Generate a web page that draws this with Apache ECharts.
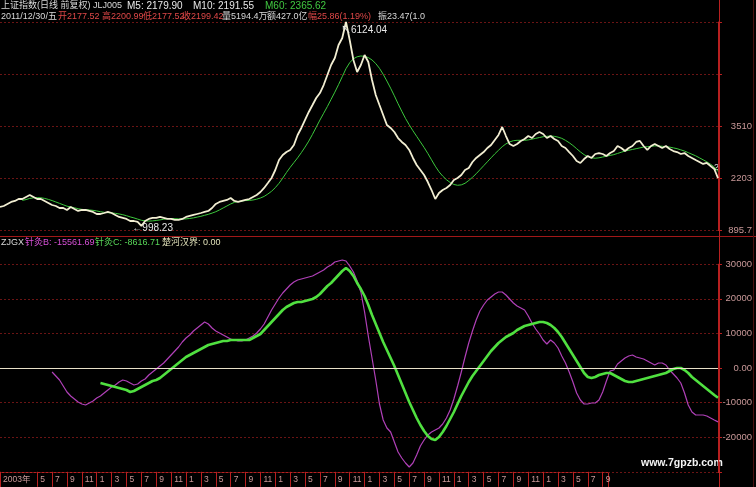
<!DOCTYPE html>
<html><head><meta charset="utf-8">
<script src="https://cdn.jsdelivr.net/npm/echarts@6/dist/echarts.min.js"></script>
<style>html,body{margin:0;padding:0;background:#000;}#c{width:756px;height:487px;}</style>
</head><body><div id="c"></div>
<script>
// Half-month sampling, Dec 2002 .. Dec 2010 (194 points)
const categories = [];
for (let k = 0; k < 97; k++) {
  const y = 2002 + Math.floor((11 + k) / 12);
  const m = (11 + k) % 12 + 1;
  const ym = y + '/' + (m < 10 ? '0' + m : m);
  categories.push(ym + '上', ym + '下');
}
const firstLabel = '2003年';
const labelFrom = '2003/05', labelTo = '2009/09';

const price = [1474,1499,1550,1600,1625,1675,1675,1726,1776,1726,
1675,1675,1625,1575,1524,1499,1449,1449,1399,1474,
1424,1374,1399,1399,1374,1349,1298,1298,1323,1349,
1323,1273,1223,1198,1173,1122,1122,1097,998.23,1122,
1173,1198,1198,1223,1198,1173,1173,1148,1148,1173,
1223,1248,1273,1298,1323,1349,1374,1449,1550,1600,
1625,1650,1700,1625,1600,1625,1650,1675,1726,1776,
1851,1952,2077,2203,2404,2655,2781,2856,2907,3032,
3284,3460,3661,3862,4037,4213,4339,4540,4791,5043,
5219,5545,5721,6124.04,5671,5168,4867,5043,5294,5118,
4666,4289,4037,3786,3535,3460,3359,3208,3108,3032,
2907,2706,2530,2404,2278,2102,1901,1675,1826,1901,
1952,2027,2153,2203,2278,2404,2454,2605,2706,2781,
2856,2957,3032,3158,3284,3485,3258,3057,3007,3057,
3133,3183,3258,3208,3309,3359,3309,3208,3258,3183,
3133,3007,2957,2856,2756,2630,2580,2680,2756,2706,
2806,2831,2806,2756,2831,2881,3007,2957,2881,2957,
3007,3108,3133,3007,2907,3007,3057,3007,2957,3007,
2931,2881,2856,2806,2831,2756,2706,2655,2605,2555,
2580,2505,2429,2199.42];

const ma60 = [null,null,null,null,null,null,1640,1660,1690,1705,
1710,1705,1690,1665,1635,1600,1565,1530,1495,1475,
1455,1430,1415,1405,1400,1390,1375,1355,1340,1330,
1325,1315,1300,1280,1255,1225,1200,1170,1140,1125,
1120,1125,1135,1150,1165,1180,1185,1180,1175,1170,
1175,1185,1200,1220,1240,1265,1290,1320,1355,1400,
1450,1500,1550,1590,1610,1625,1635,1640,1650,1670,
1700,1740,1800,1870,1960,2070,2200,2340,2470,2590,
2710,2840,2980,3130,3300,3480,3660,3830,4000,4180,
4360,4550,4750,4950,5100,5200,5250,5270,5260,5230,
5170,5080,4960,4810,4640,4460,4270,4070,3880,3700,
3540,3390,3250,3110,2970,2820,2660,2500,2360,2250,
2160,2090,2040,2020,2030,2070,2140,2220,2310,2410,
2510,2610,2710,2810,2900,2990,3060,3110,3140,3150,
3150,3150,3160,3180,3200,3220,3240,3250,3260,3250,
3230,3200,3150,3090,3020,2940,2860,2790,2740,2710,
2700,2710,2730,2750,2770,2790,2820,2850,2880,2900,
2920,2940,2960,2980,2990,3000,3010,3010,3000,2990,
2980,2960,2940,2910,2880,2840,2800,2760,2710,2660,
2610,2550,2480,2365.62];

const zjB = [null,null,null,null,null,null,null,null,null,null,
null,null,null,null,-1156,-2312,-3468,-5202,-6936,-8092,
-8959,-9826,-10404,-10693,-10115,-9537,-8670,-8092,-7225,-6358,
-5491,-4913,-4046,-3468,-3757,-4335,-4913,-4624,-3757,-3179,
-2023,-1156,-289,578,1445,2601,3757,4913,6069,7514,
8670,9537,10693,11560,12427,13294,12716,11560,10693,10115,
9537,8959,8381,8092,7803,7803,8092,8670,9248,10115,
11271,12716,14739,16762,18496,20230,21675,22831,23987,24854,
25432,25721,26010,26299,26588,27166,27744,28322,29189,29767,
30634,30923,31212,30923,29478,27744,25143,21964,16184,9248,
2890,-3468,-10404,-15028,-17340,-18496,-21386,-24276,-26010,-27455,
-28611,-27455,-25143,-22542,-20808,-19363,-18496,-17918,-17340,-16184,
-14450,-12138,-8959,-5202,-1156,3179,7225,10693,13872,16473,
18207,19652,20519,21386,21964,21964,21097,19941,18785,17918,
17340,16762,15028,13005,11271,9826,8092,6936,8092,7225,
5780,3468,1445,-1156,-4046,-7225,-9248,-10404,-10404,-10115,
-10115,-9248,-6936,-3757,-867,-578,1156,2023,2890,3468,
3757,3179,2890,2601,2023,1445,867,1445,1445,867,
-578,-1734,-2890,-4335,-7225,-10693,-12716,-13583,-13583,-13583,
-13872,-14450,-15028,-15561.69];

const zjC = [null,null,null,null,null,null,null,null,null,null,
null,null,null,null,null,null,null,null,null,null,
null,null,null,null,null,null,null,-4335,-4624,-4913,
-5202,-5491,-5780,-6069,-6358,-6936,-6647,-6069,-5491,-4913,
-4335,-3757,-3468,-2890,-2023,-1156,-289,578,1445,2312,
3179,3757,4335,4913,5491,6069,6647,6936,7225,7514,
7803,7803,8092,8092,8092,8092,8092,8092,8670,9248,
9826,10982,12138,13294,14450,15606,16762,17629,18207,18785,
19074,19074,19363,19652,19941,20519,21386,22542,23698,24565,
25721,26877,28033,28900,28033,26588,24565,22831,20808,18207,
15317,12716,10115,7514,5202,2890,578,-2023,-4624,-7225,
-9826,-12138,-14450,-16473,-18207,-19652,-20519,-20808,-19941,-18496,
-16762,-14739,-12716,-10404,-8092,-6069,-4046,-2312,-867,578,
2023,3468,4913,6069,7225,8092,8959,9537,10115,10982,
11560,12138,12427,12716,13005,13294,13294,13005,12427,11560,
10404,8959,7225,5491,3757,2023,289,-1445,-2601,-2890,
-2601,-2023,-1734,-1445,-1445,-2023,-2601,-3179,-3757,-4046,
-4046,-3757,-3468,-3179,-2890,-2601,-2312,-2023,-1734,-1445,
-867,-289,0,0,-578,-1445,-2601,-3468,-4335,-5202,
-6069,-6936,-7803,-8616.71];

const priceTicks = {min: 895.7, max: 6124.1, step: 1307.1};
const oscTicks = {min: -30000, max: 30000, step: 10000};

const FONT = '"Liberation Sans","Noto Sans CJK SC",sans-serif';
const axisRed = '#b82020';
const gridRed = '#6a1414';
const labelCol = '#c89898';

function showTick(idx, val) {
  if (idx === 0) return true;
  if (val.slice(-1) !== '上') return false;
  const ym = val.slice(0, 7);
  const m = +val.slice(5, 7);
  return m % 2 === 1 && ym >= labelFrom && ym <= labelTo;
}

const chart = echarts.init(document.getElementById('c'), null, {renderer: 'canvas'});

function txt(x, y, text, fill, size, bold) {
  return {type: 'text', x: x, y: y, silent: true,
    style: {text: text, fill: fill, font: (bold ? 'bold ' : '') + (size || 11) + 'px ' + FONT, verticalAlign: 'middle'}};
}

chart.setOption({
  backgroundColor: '#000',
  animation: false,
  grid: [
    {left: 0, right: 38, top: 22, height: 208},
    {left: 0, right: 38, top: 264.2, height: 207.6}
  ],
  xAxis: [
    {type: 'category', gridIndex: 0, data: categories, boundaryGap: false, show: false},
    {type: 'category', gridIndex: 1, data: categories, boundaryGap: false,
     axisLine: {show: false, onZero: false},
     axisTick: {show: true, interval: showTick, length: 15, lineStyle: {color: axisRed}},
     axisLabel: {interval: showTick, align: 'left', margin: 4, padding: [0, 0, 0, 3], color: labelCol, fontSize: 8.5, fontFamily: FONT,
       formatter: (v, i) => i === 0 ? firstLabel : String(+v.slice(5, 7))},
     splitLine: {show: false}}
  ],
  yAxis: [
    {type: 'value', gridIndex: 0, position: 'right', min: priceTicks.min, max: priceTicks.max, interval: priceTicks.step,
     axisLine: {show: true, lineStyle: {color: axisRed}},
     axisTick: {show: true, length: 4, lineStyle: {color: axisRed}},
     axisLabel: {margin: 34, align: 'right', color: labelCol, fontSize: 9.5, fontFamily: FONT,
       formatter: v => v > 4000 ? '' : (v < 1000 ? v.toFixed(1) : String(Math.round(v)))},
     splitLine: {show: true, lineStyle: {color: gridRed, type: [2, 2]}}},
    {type: 'value', gridIndex: 1, position: 'right', min: oscTicks.min, max: oscTicks.max, interval: oscTicks.step,
     axisLine: {show: true, lineStyle: {color: axisRed}},
     axisTick: {show: true, length: 4, lineStyle: {color: axisRed}},
     axisLabel: {margin: 34, align: 'right', color: labelCol, fontSize: 9.5, fontFamily: FONT,
       formatter: v => v === oscTicks.min ? '' : (v === 0 ? '0.00' : String(v))},
     splitLine: {show: true, lineStyle: {color: gridRed, type: [2, 2]}}}
  ],
  series: [
    {name: 'MA60', type: 'line', xAxisIndex: 0, yAxisIndex: 0, data: ma60, showSymbol: false,
     lineStyle: {color: '#3cc83c', width: 1}, z: 2},
    {name: '上证指数', type: 'line', xAxisIndex: 0, yAxisIndex: 0, data: price, showSymbol: false,
     lineStyle: {color: '#f2eed2', width: 1.8}, z: 3,
     markPoint: {symbol: 'circle', symbolSize: 0, silent: true,
       data: [
         {type: 'max', label: {show: true, position: 'right', offset: [-10, 8], color: '#e8e8e8', fontSize: 10, fontFamily: FONT, formatter: p => '↖' + p.value}},
         {type: 'min', label: {show: true, position: 'right', offset: [-14, 2], color: '#e8e8e8', fontSize: 10, fontFamily: FONT, formatter: p => '←' + p.value}}
       ]}},
    {name: '针灸B', type: 'line', xAxisIndex: 1, yAxisIndex: 1, data: zjB, showSymbol: false, clip: false,
     lineStyle: {color: '#b040b8', width: 1.2}, z: 3},
    {name: '针灸C', type: 'line', xAxisIndex: 1, yAxisIndex: 1, data: zjC, showSymbol: false, clip: false,
     lineStyle: {color: '#50e040', width: 2.6}, z: 4,
     markLine: {symbol: 'none', silent: true, label: {show: false},
       lineStyle: {color: '#e8e0c8', width: 1, type: 'solid'}, data: [{yAxis: 0}]}}
  ],
  graphic: [
    {type: 'line', silent: true, shape: {x1: 0, y1: 236.5, x2: 756, y2: 236.5}, style: {stroke: '#a01818', lineWidth: 1}},
    {type: 'line', silent: true, shape: {x1: 719.5, y1: 0, x2: 719.5, y2: 487}, style: {stroke: axisRed, lineWidth: 1}},
    {type: 'line', silent: true, shape: {x1: 753.5, y1: 0, x2: 753.5, y2: 487}, style: {stroke: '#4a1010', lineWidth: 1}},
    {type: 'rect', silent: true, shape: {x: 0.5, y: 472.5, width: 608, height: 16}, style: {fill: null, stroke: axisRed, lineWidth: 1}},
    txt(1, 6, '上证指数(日线 前复权) JLJ005', '#d8d8d8', 9),
    txt(127, 6, 'M5: 2179.90', '#e8e8e8', 10),
    txt(193, 6, 'M10: 2191.55', '#e8e8e8', 10),
    txt(265, 6, 'M60: 2365.62', '#40c840', 10),
    txt(1, 17, '2011/12/30/五', '#d8d8d8', 9),
    txt(58, 17, '开2177.52', '#e04848', 9),
    txt(102, 17, '高2200.99', '#e04848', 9),
    txt(143, 17, '低2177.52', '#e04848', 9),
    txt(182, 17, '收2199.42', '#e04848', 9),
    txt(222, 17, '量5194.4万', '#d8d8d8', 9),
    txt(267, 17, '额427.0亿', '#d8d8d8', 9),
    txt(308, 17, '幅25.86(1.19%)', '#e04848', 9),
    txt(378, 17, '振23.47(1.0', '#d8d8d8', 9),
    txt(1, 243, 'ZJGX', '#d8d8d8', 9),
    txt(25, 243, '针灸B: -15561.69', '#d850d8', 9),
    txt(95, 243, '针灸C: -8616.71', '#58d858', 9),
    txt(162, 243, '楚河汉界: 0.00', '#e0e0b8', 9),
    txt(714, 168, '2', '#e0e0e0', 9),
    txt(641, 463, 'www.7gpzb.com', '#f4f4f4', 10.5, true)
  ]
});
</script>
</body></html>
